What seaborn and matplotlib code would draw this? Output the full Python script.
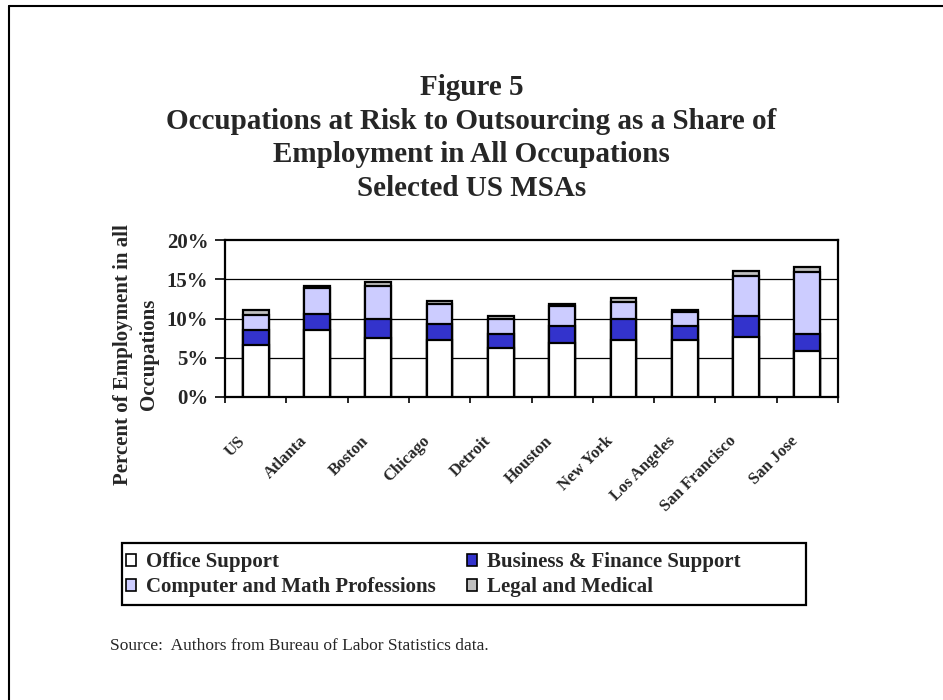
import matplotlib
matplotlib.use("Agg")
import matplotlib.pyplot as plt
import matplotlib.transforms as mtransforms
from matplotlib.patches import Patch, Rectangle
from matplotlib.lines import Line2D
import numpy as np
import pandas as pd
import seaborn as sns

# data (percent of employment)
msas = ['US', 'Atlanta', 'Boston', 'Chicago', 'Detroit', 'Houston',
        'New York', 'Los Angeles', 'San Francisco', 'San Jose']
office = [6.6, 8.5, 7.5, 7.2, 6.2, 6.9, 7.2, 7.2, 7.7, 5.9]
business = [1.9, 2.1, 2.5, 2.1, 1.8, 2.1, 2.8, 1.8, 2.6, 2.1]
computer = [2.0, 3.3, 4.1, 2.6, 2.0, 2.6, 2.1, 1.8, 5.1, 7.9]
legal = [0.6, 0.3, 0.6, 0.3, 0.3, 0.3, 0.5, 0.3, 0.6, 0.6]

series = ['Office Support', 'Business & Finance Support',
          'Computer and Math Professions', 'Legal and Medical']
colors = ['#FFFFFF', '#3333CC', '#CCCCFF', '#C0C0C0']

df = pd.DataFrame({'MSA': msas, series[0]: office, series[1]: business,
                   series[2]: computer, series[3]: legal})
# cumulative tops, so each layer can be drawn over the taller one
cum = df[series].cumsum(axis=1)

sns.set_style('white')
plt.rcParams['font.family'] = ['Liberation Serif', 'DejaVu Serif']

fig = plt.figure(figsize=(9.43, 7.0), dpi=100)
ax = fig.add_axes([225 / 943, 1 - 397 / 700, 613 / 943, 157 / 700])

for s, c in reversed(list(zip(series, colors))):
    sns.barplot(x=df['MSA'], y=cum[s], color=c, edgecolor='black',
                linewidth=1.6, width=0.42, saturation=1, ax=ax, zorder=3)

ax.set_ylim(0, 20)
ax.set_xlim(-0.5, len(msas) - 0.5)
ax.set_yticks([0, 5, 10, 15, 20])
ax.set_yticklabels(['0%', '5%', '10%', '15%', '20%'], fontsize=15, fontweight='bold')
for yv in [5, 10, 15]:
    ax.axhline(yv, color='black', linewidth=0.9, zorder=1)

ax.set_xticks(range(len(msas)))
ax.set_xticklabels(msas, rotation=45, ha='right', va='top', fontsize=12,
                   fontweight='bold', rotation_mode='anchor')
ax.set_xticks(np.arange(-0.5, len(msas)), minor=True)
ax.tick_params(axis='x', which='major', length=0, pad=0)
ax.tick_params(axis='x', which='minor', length=4.5, width=1.4, direction='out', bottom=True)
ax.tick_params(axis='y', length=7, width=1.4, direction='out', left=True, pad=5)
# move the slanted labels left and down, like the original
shift = mtransforms.ScaledTranslation(-0.18, -0.36, fig.dpi_scale_trans)
for lab in ax.get_xticklabels():
    lab.set_transform(lab.get_transform() + shift)

ax.set_xlabel('')
ax.set_ylabel('Percent of Employment in all\nOccupations', fontsize=15,
              fontweight='bold', linespacing=1.4)
ax.yaxis.set_label_coords(-0.108, 0.27)
for sp in ax.spines.values():
    sp.set_color('black')
    sp.set_linewidth(1.6)

fig.text(0.5, 1 - 138 / 700, 'Figure 5\nOccupations at Risk to Outsourcing as a Share of\n'
         'Employment in All Occupations\nSelected US MSAs',
         ha='center', va='center', fontsize=21, fontweight='bold', linespacing=1.33)

# legend: entries without frame, box drawn as its own rectangle
handles = [Patch(facecolor=colors[i], edgecolor='black', linewidth=1.2)
           for i in [0, 2, 1, 3]]
labels = [series[i] for i in [0, 2, 1, 3]]
leg = fig.legend(handles, labels, ncol=2, loc='upper left',
                 bbox_to_anchor=(126 / 943, 1 - 552 / 700),
                 prop={'size': 15, 'weight': 'bold'}, frameon=False,
                 handlelength=0.5, handleheight=0.5, handletextpad=0.45,
                 borderpad=0, labelspacing=0.25, columnspacing=1.5,
                 borderaxespad=0)
fig.add_artist(Rectangle((122 / 943, 1 - 605 / 700), 684 / 943, 62 / 700,
                         fill=False, edgecolor='black', linewidth=1.6,
                         transform=fig.transFigure))

fig.text(110 / 943, 1 - 646 / 700, 'Source:  Authors from Bureau of Labor Statistics data.',
         ha='left', va='center', fontsize=12.5)

# page frame (left and top edges)
fig.add_artist(Line2D([9 / 943, 9 / 943], [0, 1 - 6 / 700], color='black',
                      linewidth=1.5, transform=fig.transFigure))
fig.add_artist(Line2D([9 / 943, 1], [1 - 6 / 700, 1 - 6 / 700], color='black',
                      linewidth=1.5, transform=fig.transFigure))

fig.savefig('out.png', dpi=100)
